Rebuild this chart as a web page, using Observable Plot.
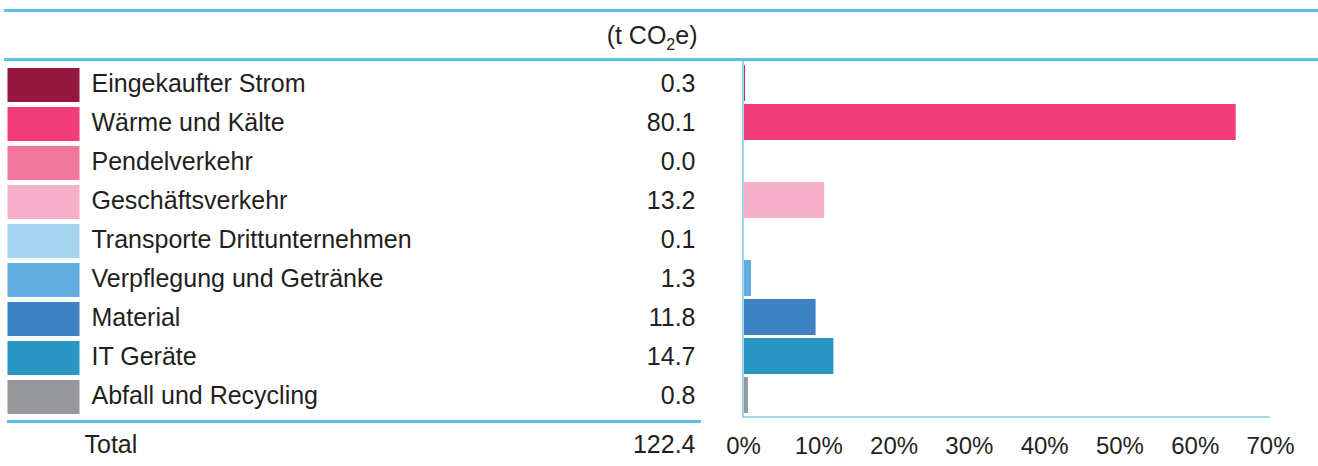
<!DOCTYPE html>
<html><head><meta charset="utf-8">
<script src="https://cdn.jsdelivr.net/npm/d3@7"></script>
<script src="https://cdn.jsdelivr.net/npm/@observablehq/plot@0.6"></script>
<style>html,body{margin:0;padding:0;background:#fff} svg{display:block}</style>
</head><body><div id="chart"></div>
<script>
// ---- data ----
const categories = [
  "Eingekaufter Strom",
  "Wärme und Kälte",
  "Pendelverkehr",
  "Geschäftsverkehr",
  "Transporte Drittunternehmen",
  "Verpflegung und Getränke",
  "Material",
  "IT Geräte",
  "Abfall und Recycling"
];
const values = [0.3, 80.1, 0.0, 13.2, 0.1, 1.3, 11.8, 14.7, 0.8];
const colors = ["#95173E", "#F03C78", "#F0769B", "#F5AFC8", "#A5D5F1", "#62ADDF", "#3F82C4", "#2A96C3", "#97989C"];
const total = 122.4;
const totalLabel = "Total";
const unitLabel = "(t CO2e)";
const xTicks = [0, 0.1, 0.2, 0.3, 0.4, 0.5, 0.6, 0.7];

// ---- layout ----
const rows = categories.map((c, i) => ({category: c, value: values[i], share: values[i] / total}));
const lineColor = "#5BC2E7";
const W = 1318, H = 466, mL = 743, mR = 48, mT = 60, mB = 49;
const swatch = {draw(ctx) { ctx.rect(-36, -15.5, 72, 34); }};

const rules = (index, scales, vals, dims) => {
  const g = d3.create("svg:g").attr("stroke", lineColor).attr("fill", "none");
  g.append("line").attr("x1", 4).attr("x2", dims.width).attr("y1", 10.5).attr("y2", 10.5).attr("stroke-width", 3);
  g.append("line").attr("x1", 4).attr("x2", dims.width).attr("y1", dims.marginTop - 0.5).attr("y2", dims.marginTop - 0.5).attr("stroke-width", 3);
  g.append("line").attr("x1", 7).attr("x2", 701).attr("y1", dims.height - dims.marginBottom + 4.5).attr("y2", dims.height - dims.marginBottom + 4.5).attr("stroke-width", 3);
  g.append("line").attr("x1", dims.marginLeft - 1).attr("x2", dims.width - dims.marginRight)
    .attr("y1", dims.height - dims.marginBottom).attr("y2", dims.height - dims.marginBottom)
    .attr("stroke", "#86CDE9").attr("stroke-width", 1.5);
  return g.node();
};

const plot = Plot.plot({
  width: W, height: H,
  marginLeft: mL, marginRight: mR, marginTop: mT, marginBottom: mB,
  style: {fontFamily: "'Liberation Sans', Arial, sans-serif", fontSize: "25px", color: "#231F20", background: "#fff"},
  x: {domain: [0, 0.7], label: null, axis: null},
  y: {domain: categories, paddingInner: 0.0886, paddingOuter: 0.063, axis: null},
  color: {domain: categories, range: colors},
  marks: [
    Plot.axisX({ticks: xTicks, tickFormat: d3.format(".0%"), tickSize: 0, tickPadding: 19, label: null, fontSize: 24}),
    Plot.barX(rows, {x: "share", y: "category", fill: "category"}),
    Plot.ruleX([0], {stroke: "#9AD3EC", strokeWidth: 2, dx: -0.5}),
    Plot.dot(rows, {y: "category", frameAnchor: "left", dx: -700, symbol: swatch, fill: "category", r: 10}),
    Plot.text(rows, {y: "category", text: "category", frameAnchor: "left", dx: -652, textAnchor: "start"}),
    Plot.text(rows, {y: "category", text: d => d.value.toFixed(1), frameAnchor: "left", dx: -48, textAnchor: "end"}),
    Plot.text([unitLabel], {frameAnchor: "top-left", lineAnchor: "middle", dx: -46, dy: -25, textAnchor: "end", text: d => d, className: "unit-label"}),
    Plot.text([totalLabel], {frameAnchor: "bottom-left", lineAnchor: "middle", dx: -659, dy: 27, textAnchor: "start", text: d => d}),
    Plot.text([total], {frameAnchor: "bottom-left", lineAnchor: "middle", dx: -48, dy: 27, textAnchor: "end", text: d => d.toFixed(1)}),
    rules
  ]
});

// subscript in the unit label
d3.select(plot).selectAll(".unit-label text").each(function() {
  const t = d3.select(this);
  const s = t.text();
  const i = s.indexOf("2");
  if (i < 0) return;
  t.text(null);
  t.append("tspan").text(s.slice(0, i));
  t.append("tspan").attr("font-size", "16px").attr("dy", "6").text("2");
  t.append("tspan").attr("dy", "-6").text(s.slice(i + 1));
});

document.getElementById("chart").appendChild(plot);
</script>
</body></html>
